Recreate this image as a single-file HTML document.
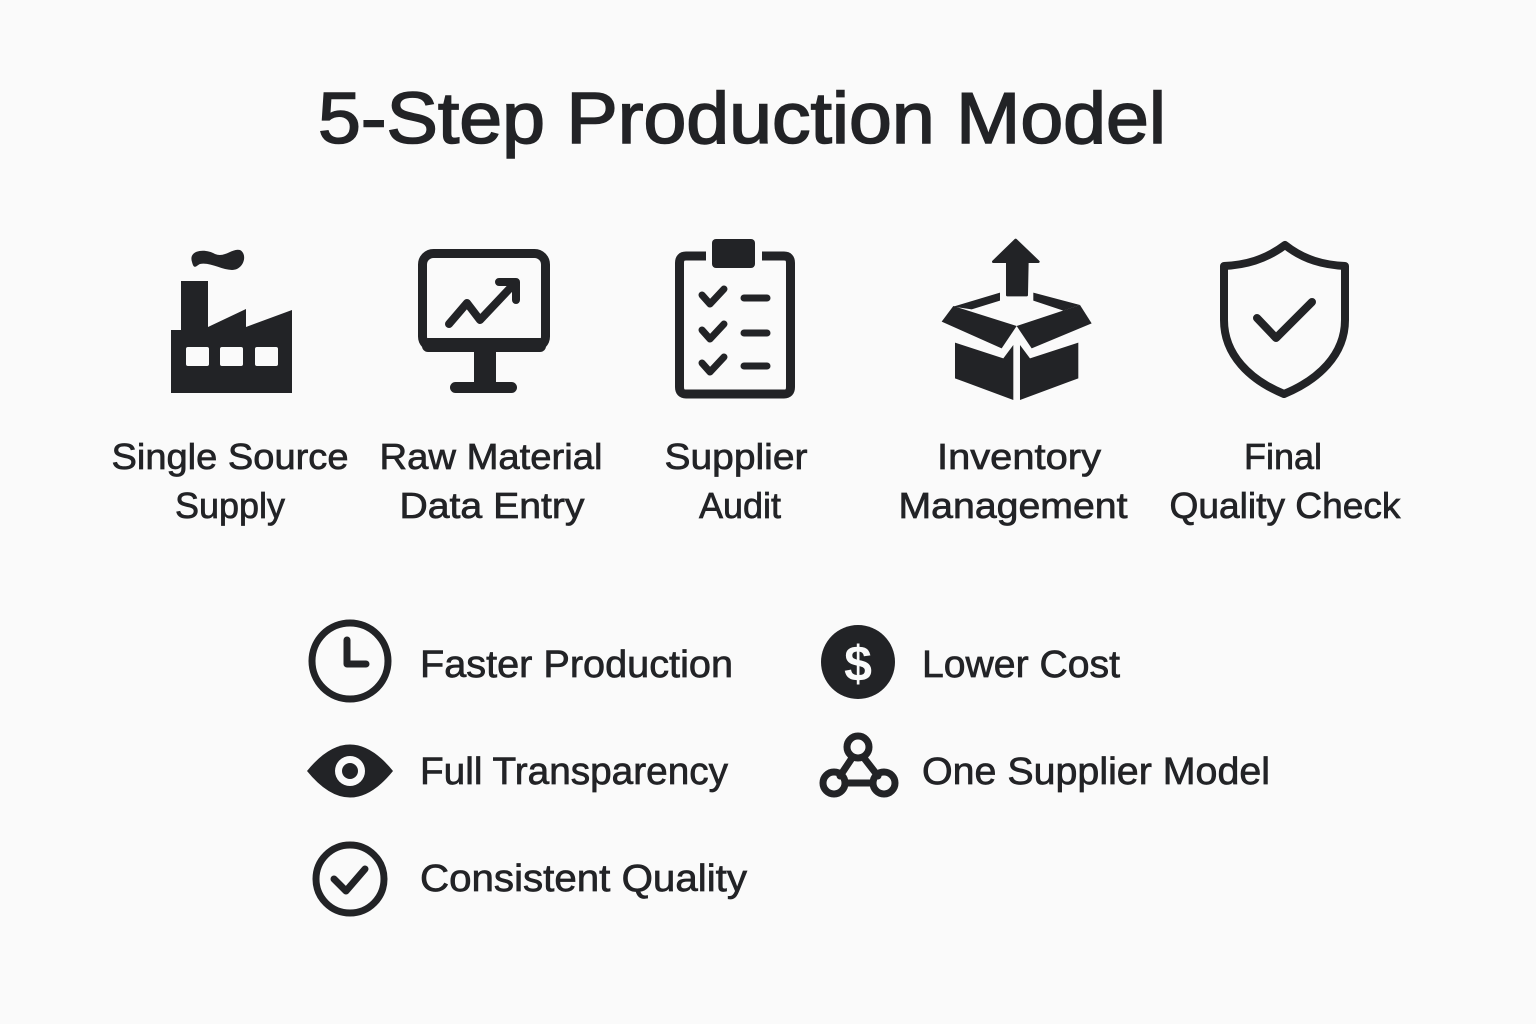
<!DOCTYPE html>
<html><head><meta charset="utf-8"><style>
html,body{margin:0;padding:0;background:#fafafa;}
svg{display:block}
text{font-family:"Liberation Sans",sans-serif;fill:#222326}
</style></head><body>
<svg width="1536" height="1024" viewBox="0 0 1536 1024" xmlns="http://www.w3.org/2000/svg">
<rect width="1536" height="1024" fill="#fafafa"/>
<text x="318" y="143" font-size="72" textLength="848" lengthAdjust="spacingAndGlyphs" stroke="#222326" stroke-width="1.6">5-Step Production Model</text>

<g fill="#222326" stroke="#222326">
<!-- factory -->
<path d="M171,330 L181,330 L181,281 L208,281 L208,327 L246,309 L246,327 L292,310 L292,393 L171,393 Z" stroke="none"/>
<path d="M192,262 C188,250 205,248 215,254 C225,258 232,248 240,250 C248,254 244,270 232,270 C222,270 210,262 200,264 C196,266 194,270 192,262Z" stroke="none"/>
<g fill="#fafafa" stroke="none">
<rect x="186" y="347" width="23" height="19" rx="2"/><rect x="220" y="347" width="23" height="19" rx="2"/><rect x="255" y="347" width="23" height="19" rx="2"/>
</g>
<!-- monitor -->
<rect x="422.5" y="253.5" width="123" height="94" rx="11" fill="none" stroke-width="9"/>
<rect x="422" y="338" width="124" height="14" rx="6" stroke="none"/>
<rect x="474" y="350" width="22" height="34" stroke="none"/>
<rect x="450" y="382" width="67" height="11" rx="5.5" stroke="none"/>
<polyline points="449,324 467,303 480,320 514,284" fill="none" stroke-width="8" stroke-linecap="round" stroke-linejoin="round"/>
<polyline points="499,282 516,282 516,300" fill="none" stroke-width="8" stroke-linecap="round" stroke-linejoin="round"/>
<!-- clipboard -->
<path d="M706,256 L686,256 Q679.5,256 679.5,263 L679.5,387 Q679.5,394 686,394 L784,394 Q790.5,394 790.5,387 L790.5,263 Q790.5,256 784,256 L762,256" fill="none" stroke-width="9"/>
<rect x="712" y="239" width="43" height="29" rx="4" stroke="none"/>
<g fill="none" stroke-width="7" stroke-linecap="round" stroke-linejoin="round">
<polyline points="702,295 710,304 724,289"/><line x1="744" y1="298" x2="767" y2="298"/>
<polyline points="702,330 710,339 724,324"/><line x1="744" y1="333" x2="767" y2="333"/>
<polyline points="702,363 710,372 724,357"/><line x1="744" y1="366" x2="767" y2="366"/>
</g>
<!-- box -->
<g transform="translate(920,230) scale(0.3333)" stroke="none">
<path d="M287,30 L355,95 L322,95 L320,195 L262,195 L262,95 L220,95 Z" stroke="#222326" stroke-width="8" stroke-linejoin="round"/>
<polygon points="100,230 240,188 240,212 155,238"/>
<polygon points="340,188 480,225 430,242 340,212"/>
<polygon points="65,275 100,228 290,288 245,355"/>
<polygon points="290,288 480,225 515,280 335,355"/>
<polygon points="105,338 250,385 280,345 280,510 105,445"/>
<polygon points="300,345 330,385 475,338 475,445 300,510"/>
</g>
<!-- shield -->
<path d="M1285,245 C1265,260 1245,265 1224,266 L1224,320 C1224,355 1250,380 1284,394 C1318,380 1345,355 1345,320 L1345,266 C1324,265 1304,260 1285,245 Z" fill="none" stroke-width="8" stroke-linejoin="round"/>
<polyline points="1257,318 1276,338 1312,302" fill="none" stroke-width="8" stroke-linecap="round" stroke-linejoin="round"/>
</g>

<g font-size="36" text-anchor="middle" stroke="#222326" stroke-width="0.7" lengthAdjust="spacingAndGlyphs">
<text x="230" y="469" textLength="237" lengthAdjust="spacingAndGlyphs">Single Source</text><text x="230" y="518">Supply</text>
<text x="491" y="469" textLength="223" lengthAdjust="spacingAndGlyphs">Raw Material</text><text x="492" y="518" textLength="185" lengthAdjust="spacingAndGlyphs">Data Entry</text>
<text x="736" y="469" textLength="143" lengthAdjust="spacingAndGlyphs">Supplier</text><text x="740" y="518">Audit</text>
<text x="1019" y="469" textLength="164" lengthAdjust="spacingAndGlyphs">Inventory</text><text x="1013" y="518" textLength="229" lengthAdjust="spacingAndGlyphs">Management</text>
<text x="1283" y="469">Final</text><text x="1285" y="518" textLength="231" lengthAdjust="spacingAndGlyphs">Quality Check</text>
</g>

<g fill="none" stroke="#222326" stroke-width="7" stroke-linecap="round" stroke-linejoin="round">
<circle cx="350" cy="661" r="38"/>
<polyline points="347,640 347,664 366,664"/>
<circle cx="350" cy="879" r="34"/>
<polyline points="334,879 346,891 365,869"/>
<line x1="852" y1="758" x2="840" y2="776"/><line x1="864" y1="758" x2="878" y2="776"/><line x1="846" y1="783" x2="872" y2="783"/>
<circle cx="858" cy="747" r="11"/><circle cx="834" cy="783" r="11"/><circle cx="884" cy="783" r="11"/>
</g>
<circle cx="858" cy="662" r="37" fill="#222326"/>
<text x="858" y="681" font-size="50" font-weight="bold" text-anchor="middle" style="fill:#fafafa">$</text>
<path d="M307,771 Q350,718 393,771 Q350,824 307,771 Z" fill="#222326"/>
<circle cx="350" cy="771" r="15" fill="#fafafa"/><circle cx="350" cy="771" r="8" fill="#222326"/>

<g font-size="38" stroke="#222326" stroke-width="0.7">
<text x="420" y="677" textLength="313" lengthAdjust="spacingAndGlyphs">Faster Production</text>
<text x="922" y="677" textLength="198" lengthAdjust="spacingAndGlyphs">Lower Cost</text>
<text x="420" y="784" textLength="308" lengthAdjust="spacingAndGlyphs">Full Transparency</text>
<text x="922" y="784" textLength="348" lengthAdjust="spacingAndGlyphs">One Supplier Model</text>
<text x="420" y="891" textLength="327" lengthAdjust="spacingAndGlyphs">Consistent Quality</text>
</g>
</svg>
</body></html>
